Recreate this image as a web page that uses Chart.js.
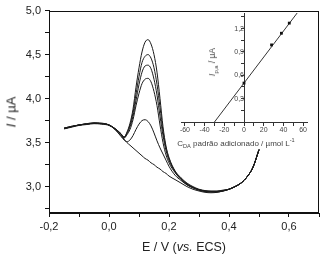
<!DOCTYPE html>
<html>
<head>
<meta charset="utf-8">
<script src="https://cdn.jsdelivr.net/npm/chart.js@4.4.1/dist/chart.umd.min.js"></script>
<style>
  body { margin: 0; background: #fff; }
  #quadro { position: relative; width: 323px; height: 255px; font-family: "Liberation Sans", Arial, sans-serif; color: #222; }
  canvas { position: absolute; }
  #principal { left: 0; top: 0; }
  #inset { left: 170px; top: 0; }
  .rot { position: absolute; transform: translate(-50%, -50%) rotate(-90deg); white-space: nowrap; }
  .lbl { position: absolute; transform: translate(-50%, -50%); white-space: nowrap; }
  sub, sup { font-size: 70%; line-height: 0; }
</style>
</head>
<body>
<div id="quadro">
  <canvas id="principal" width="323" height="255"></canvas>
  <canvas id="inset" width="150" height="150"></canvas>
  <div class="rot" style="left:11px; top:112px; font-size:13px"><i>I</i> / µA</div>
  <div class="lbl" style="left:184px; top:247px; font-size:12.5px">E / V (<i>vs.</i> ECS)</div>
  <div class="rot" style="left:212px; top:62px; font-size:8.5px; color:#444"><i>I</i><sub>p,a</sub> / µA</div>
  <div class="lbl" style="left:236px; top:143px; font-size:8px; color:#444">C<sub>DA</sub> padrão adicionado / µmol L<sup>-1</sup></div>
</div>

<script>
// Potencial (V vs. ECS) - eixo x comum a todas as curvas
const potencial = [-0.15, -0.125, -0.10, -0.075, -0.05, -0.025, 0, 0.02, 0.04,
  0.05, 0.06, 0.07, 0.08, 0.09, 0.10, 0.11, 0.12, 0.13, 0.14, 0.15, 0.16, 0.17, 0.18, 0.19, 0.20,
  0.22, 0.24, 0.26, 0.28, 0.30, 0.32, 0.34, 0.36, 0.38, 0.40, 0.42, 0.44, 0.46, 0.48, 0.50];

// Correntes (µA)
const curva1 = [3.66, 3.68, 3.70, 3.71, 3.72, 3.715, 3.70, 3.66, 3.60,
  3.56, 3.62, 3.72, 3.88, 4.13, 4.35, 4.53, 4.64, 4.67, 4.62, 4.50, 4.30, 4.00, 3.68, 3.46, 3.33,
  3.18, 3.10, 3.04, 3.00, 2.97, 2.955, 2.95, 2.95, 2.96, 2.97, 3.00, 3.04, 3.11, 3.22, 3.42];
const curva2 = [3.665, 3.685, 3.70, 3.715, 3.72, 3.72, 3.70, 3.66, 3.60,
  3.56, 3.61, 3.70, 3.84, 4.05, 4.25, 4.41, 4.48, 4.50, 4.46, 4.35, 4.16, 3.90, 3.63, 3.44, 3.32,
  3.17, 3.09, 3.03, 2.99, 2.965, 2.95, 2.945, 2.945, 2.955, 2.97, 3.00, 3.04, 3.11, 3.22, 3.42];
const curva3 = [3.655, 3.675, 3.695, 3.705, 3.715, 3.71, 3.695, 3.655, 3.60,
  3.56, 3.60, 3.68, 3.80, 3.98, 4.16, 4.30, 4.37, 4.38, 4.34, 4.22, 4.04, 3.80, 3.58, 3.41, 3.30,
  3.17, 3.09, 3.03, 2.99, 2.965, 2.95, 2.945, 2.945, 2.955, 2.97, 3.00, 3.04, 3.11, 3.22, 3.42];
const curva4 = [3.66, 3.68, 3.70, 3.71, 3.72, 3.715, 3.70, 3.655, 3.59,
  3.55, 3.59, 3.65, 3.76, 3.92, 4.06, 4.17, 4.22, 4.23, 4.19, 4.08, 3.92, 3.70, 3.50, 3.36, 3.27,
  3.16, 3.08, 3.02, 2.985, 2.96, 2.945, 2.94, 2.94, 2.95, 2.97, 3.00, 3.04, 3.11, 3.22, 3.42];
const curva5 = [3.665, 3.685, 3.70, 3.715, 3.725, 3.72, 3.70, 3.65, 3.57,
  3.53, 3.51, 3.53, 3.58, 3.65, 3.71, 3.75, 3.76, 3.74, 3.69, 3.61, 3.52, 3.44, 3.37, 3.30, 3.23,
  3.13, 3.07, 3.02, 2.99, 2.96, 2.945, 2.94, 2.94, 2.95, 2.97, 3.00, 3.04, 3.11, 3.22, 3.42];
const branco = [3.66, 3.68, 3.70, 3.71, 3.72, 3.715, 3.70, 3.65, 3.58,
  3.54, 3.50, 3.47, 3.44, 3.41, 3.38, 3.35, 3.32, 3.30, 3.27, 3.25, 3.22, 3.20, 3.17, 3.15, 3.12,
  3.08, 3.04, 3.00, 2.97, 2.95, 2.935, 2.93, 2.935, 2.95, 2.97, 3.00, 3.04, 3.11, 3.22, 3.42];

// Inset: adição de padrão
const adicionado = [0, 28, 38, 46];
const correnteIpa = [0.50, 0.99, 1.14, 1.27];
const ajusteX = [-30, 54];
const ajusteY = [0, 1.40];

const curvas = [curva1, curva2, curva3, curva4, curva5, branco];
const fonte = "'Liberation Sans', Arial, sans-serif";

function virgula(v) {
    return (Math.round(v * 10) / 10).toFixed(1).replace(".", ",");
}

// moldura em volta da área do gráfico principal
const moldura = {
    id: "moldura",
    afterDraw(chart) {
        const a = chart.chartArea;
        const ctx = chart.ctx;
        ctx.save();
        ctx.strokeStyle = "#111";
        ctx.lineWidth = 1;
        ctx.strokeRect(Math.round(a.left) + 0.5, Math.round(a.top) + 0.5,
            Math.round(a.right - a.left) - 1, Math.round(a.bottom - a.top) - 1);
        ctx.restore();
    }
};

new Chart(document.getElementById("principal"), {
    type: "line",
    data: {
        datasets: curvas.map(c => ({
            data: potencial.map((e, i) => ({ x: e, y: c[i] })),
            borderColor: "#1a1a1a",
            borderWidth: 1,
            pointRadius: 0,
            fill: false,
            cubicInterpolationMode: "monotone"
        }))
    },
    options: {
        responsive: false,
        animation: false,
        layout: { padding: { left: 0, right: 4, top: 10, bottom: 0 } },
        plugins: { legend: { display: false }, tooltip: { enabled: false } },
        scales: {
            x: {
                type: "linear", min: -0.2, max: 0.7,
                afterFit(s) { s.height = 42; },
                grid: { drawOnChartArea: false, tickLength: 4, color: "#111" },
                border: { color: "#111" },
                ticks: {
                    stepSize: 0.1, includeBounds: false, autoSkip: false, maxRotation: 0,
                    padding: 3, color: "#222", font: { family: fonte, size: 11 },
                    callback: v => Math.round(v * 10) % 2 === 0 ? virgula(v) : ""
                }
            },
            y: {
                type: "linear", min: 2.7, max: 5.0,
                afterFit(s) { s.width = 49; },
                grid: { drawOnChartArea: false, tickLength: 4, color: "#111" },
                border: { color: "#111" },
                ticks: {
                    stepSize: 0.25, includeBounds: false, autoSkip: false,
                    padding: 4, color: "#222", font: { family: fonte, size: 11 },
                    callback: v => Math.round(v * 4) % 2 === 0 ? virgula(v) : ""
                }
            }
        }
    },
    plugins: [moldura]
});

new Chart(document.getElementById("inset"), {
    type: "scatter",
    data: {
        datasets: [
            {
                data: adicionado.map((x, i) => ({ x: x, y: correnteIpa[i] })),
                pointStyle: "rect", pointRadius: 2,
                backgroundColor: "#111", borderColor: "#111", borderWidth: 0,
                showLine: false
            },
            {
                data: ajusteX.map((x, i) => ({ x: x, y: ajusteY[i] })),
                borderColor: "#333", borderWidth: 1, pointRadius: 0,
                showLine: true
            }
        ]
    },
    options: {
        responsive: false,
        animation: false,
        layout: { padding: { left: 11, right: 13, top: 13, bottom: 28 } },
        plugins: { legend: { display: false }, tooltip: { enabled: false } },
        scales: {
            x: {
                type: "linear", min: -64, max: 64, position: { y: 0 },
                grid: { drawOnChartArea: false, tickLength: 3, color: "#333" },
                border: { color: "#333" },
                ticks: {
                    stepSize: 10, includeBounds: false, autoSkip: false, maxRotation: 0,
                    padding: 1, color: "#444", font: { family: fonte, size: 7 },
                    callback: v => Math.round(v) % 20 === 0 ? String(Math.round(v)) : ""
                }
            },
            y: {
                type: "linear", min: 0, max: 1.4, position: { x: 0 },
                grid: { drawOnChartArea: false, tickLength: 3, color: "#333" },
                border: { color: "#333" },
                ticks: {
                    stepSize: 0.15, includeBounds: false, autoSkip: false,
                    padding: 1, color: "#444", font: { family: fonte, size: 7 },
                    callback: v => {
                        const k = Math.round(v / 0.15);
                        return (k > 0 && k % 2 === 0) ? virgula(v) : "";
                    }
                }
            }
        }
    }
});
</script>
</body>
</html>
